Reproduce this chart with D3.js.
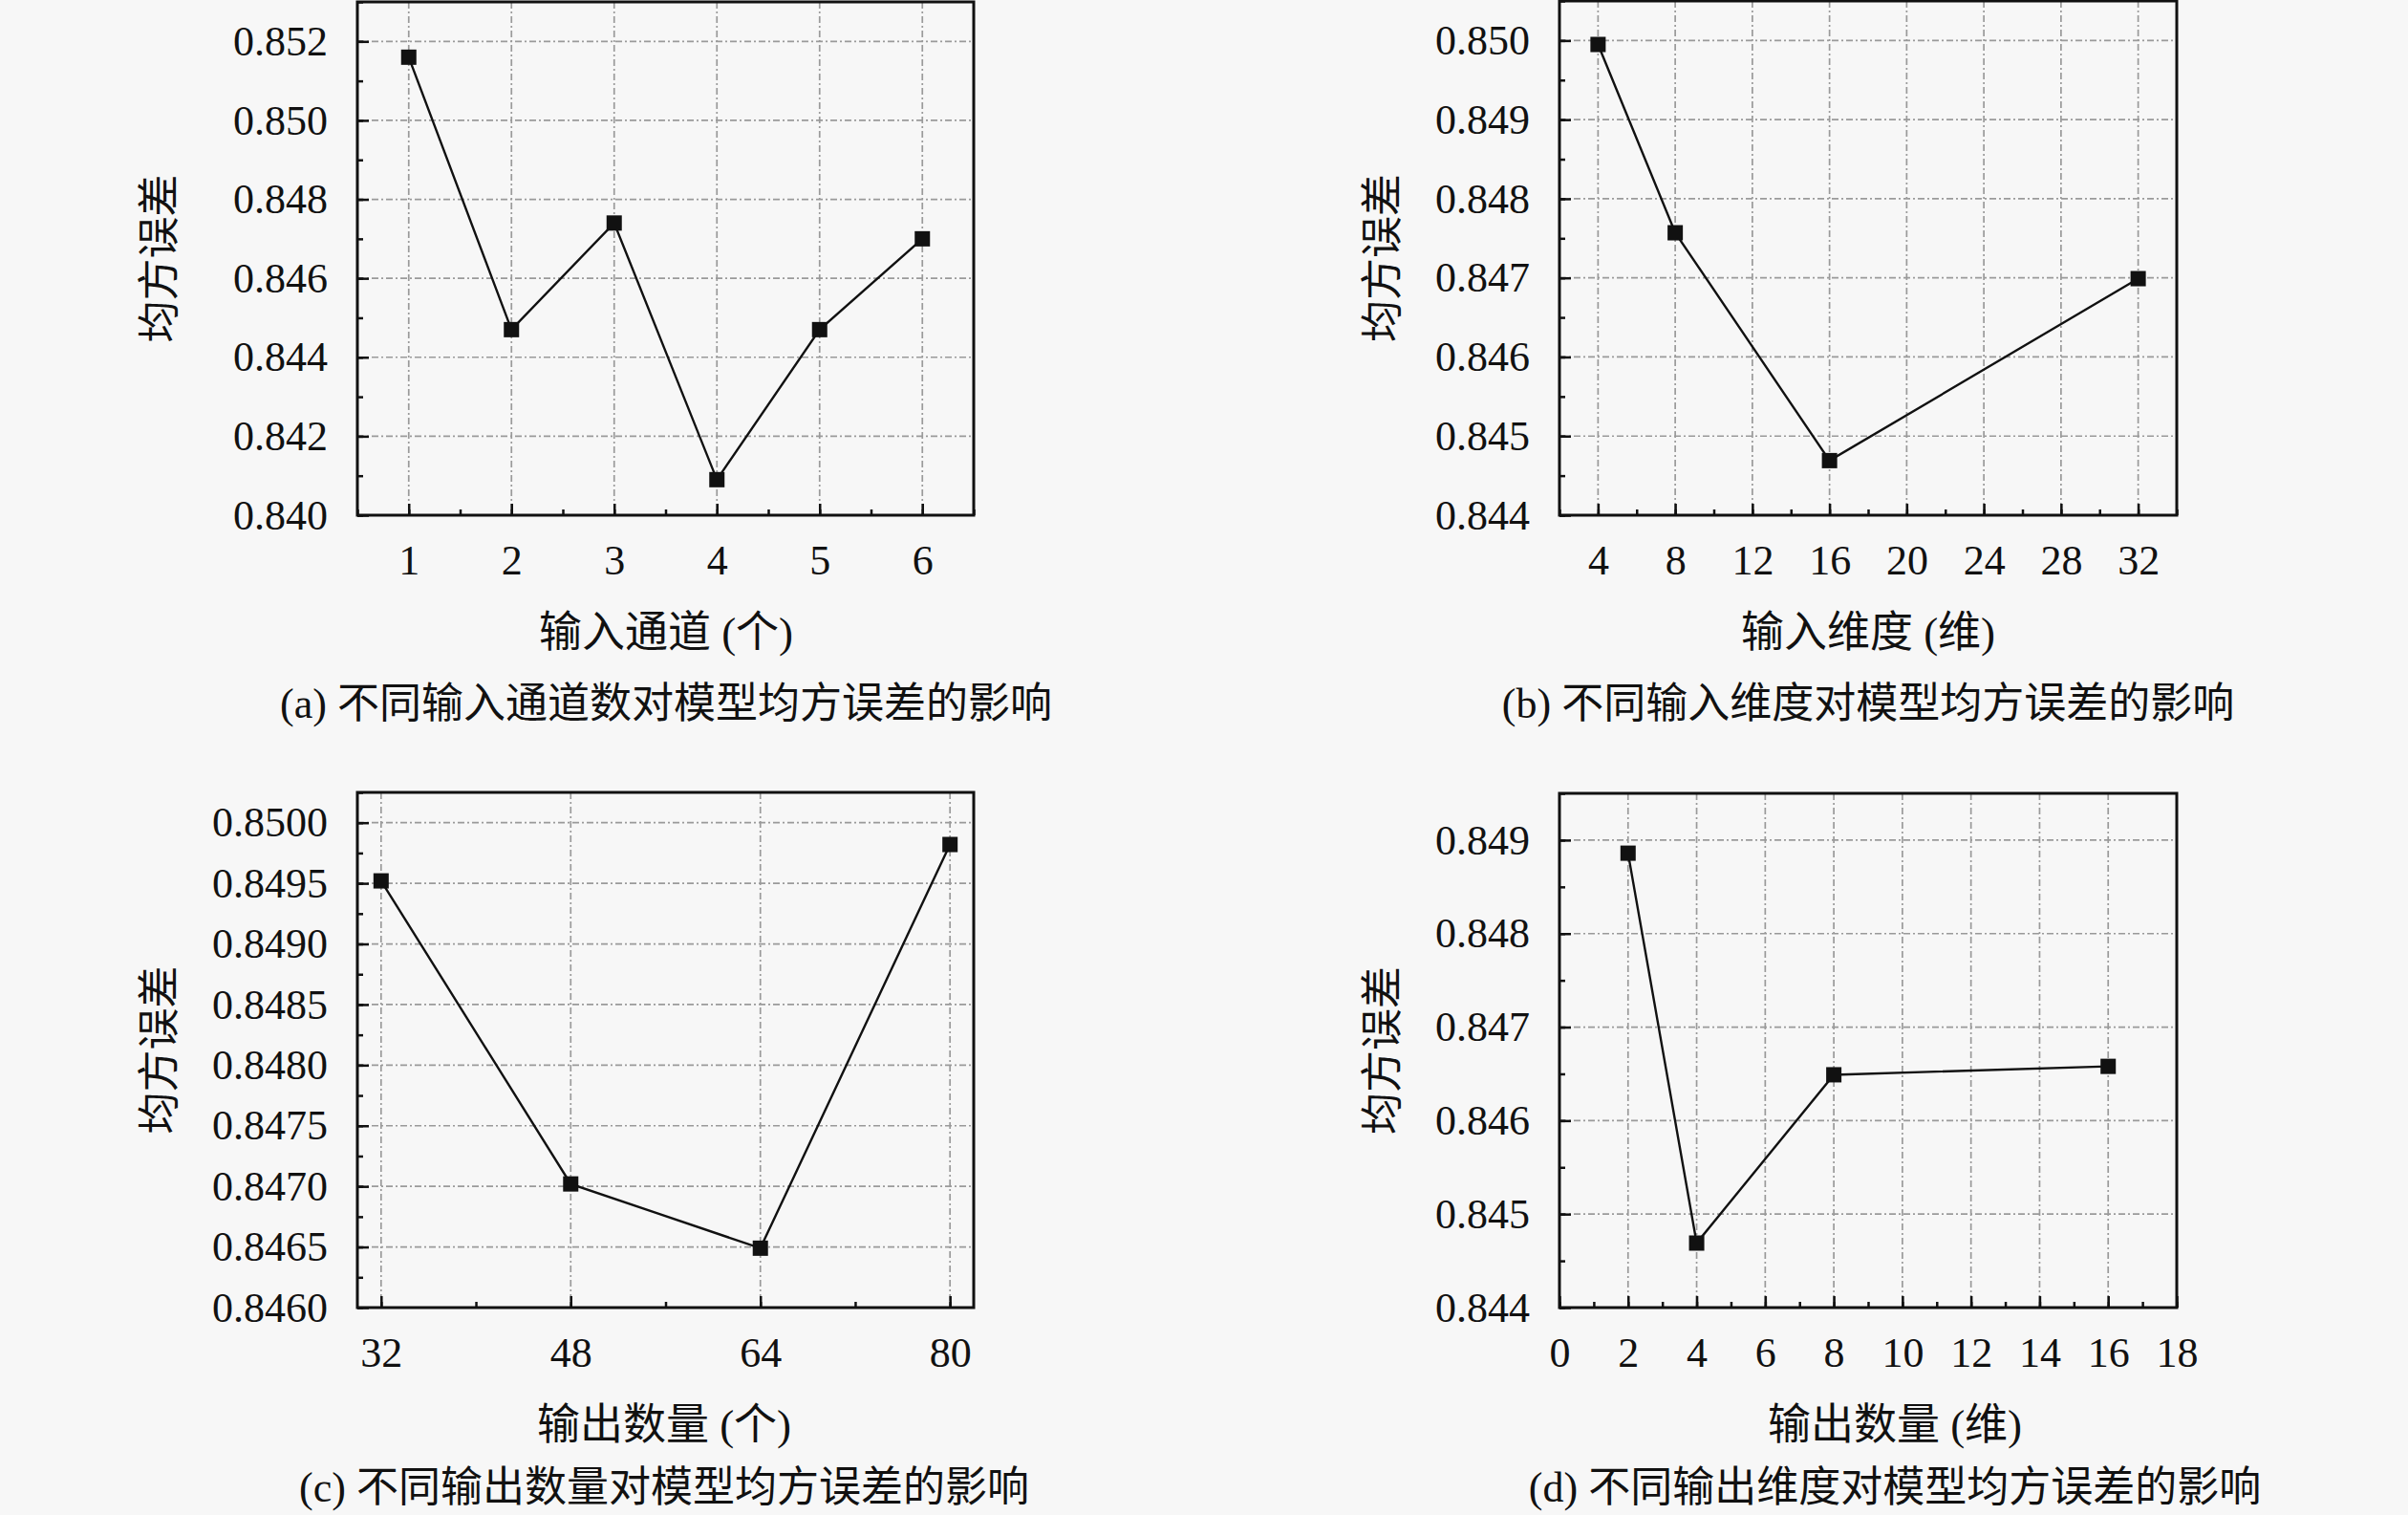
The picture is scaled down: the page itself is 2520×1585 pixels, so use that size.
<!DOCTYPE html>
<html>
<head>
<meta charset="utf-8">
<script src="https://cdn.jsdelivr.net/npm/d3@7"></script>
<style>
  html, body { margin: 0; padding: 0; background: #f7f7f7; }
  svg { display: block; }
  text { font-family: "Liberation Serif", "Noto Sans CJK SC", serif; fill: #111; }
</style>
</head>
<body>
<script>
// (a) input channels
const chanX = [1, 2, 3, 4, 5, 6]
const chanY = [0.8516, 0.8447, 0.8474, 0.8409, 0.8447, 0.8470]
const chanXTicks = [1, 2, 3, 4, 5, 6]
const chanYTicks = [0.840, 0.842, 0.844, 0.846, 0.848, 0.850, 0.852]

// (b) input dims
const inDimX = [4, 8, 16, 32]
const inDimY = [0.84995, 0.84757, 0.84469, 0.84699]
const inDimXTicks = [4, 8, 12, 16, 20, 24, 28, 32]
const inDimYTicks = [0.844, 0.845, 0.846, 0.847, 0.848, 0.849, 0.850]

// (c) output count
const outNumX = [32, 48, 64, 80]
const outNumY = [0.84952, 0.84702, 0.84649, 0.84982]
const outNumXTicks = [32, 48, 64, 80]
const outNumYTicks = [0.8460, 0.8465, 0.8470, 0.8475, 0.8480, 0.8485, 0.8490, 0.8495, 0.8500]

// (d) output dims
const outDimX = [2, 4, 8, 16]
const outDimY = [0.84886, 0.84469, 0.84649, 0.84658]
const outDimXTicks = [0, 2, 4, 6, 8, 10, 12, 14, 16, 18]
const outDimYTicks = [0.844, 0.845, 0.846, 0.847, 0.848, 0.849]

const [width, height] = [2520, 1585]
const colors = {
    "black": "#111",
    "grid": "#9a9a9a",
}

const panels = [
    { x: chanX, y: chanY, xTicks: chanXTicks, yTicks: chanYTicks,
      xDom: [0.5, 6.5], yDom: [0.840, 0.853], xMinor: 0.5, yMinor: 0.001, fmt: ".3f",
      box: [374, 2, 1019, 539], ylabX: 167, labX: 697, capY: 736,
      xlab: "输入通道 (个)", cap: "(a) 不同输入通道数对模型均方误差的影响" },
    { x: inDimX, y: inDimY, xTicks: inDimXTicks, yTicks: inDimYTicks,
      xDom: [2, 34], yDom: [0.844, 0.8505], xMinor: 2, yMinor: 0.0005, fmt: ".3f",
      box: [1632, 1, 2278, 539], ylabX: 1447, labX: 1955, capY: 736,
      xlab: "输入维度 (维)", cap: "(b) 不同输入维度对模型均方误差的影响" },
    { x: outNumX, y: outNumY, xTicks: outNumXTicks, yTicks: outNumYTicks,
      xDom: [30, 82], yDom: [0.846, 0.85025], xMinor: 8, yMinor: 0.00025, fmt: ".4f",
      box: [374, 829, 1019, 1368], ylabX: 167, labX: 695, capY: 1556,
      xlab: "输出数量 (个)", cap: "(c) 不同输出数量对模型均方误差的影响" },
    { x: outDimX, y: outDimY, xTicks: outDimXTicks, yTicks: outDimYTicks,
      xDom: [0, 18], yDom: [0.844, 0.8495], xMinor: 1, yMinor: 0.0005, fmt: ".3f",
      box: [1632, 830, 2278, 1368], ylabX: 1447, labX: 1983, capY: 1556,
      xlab: "输出数量 (维)", cap: "(d) 不同输出维度对模型均方误差的影响" },
]

const svg = d3.select("body")
        .append("svg")
            .attr("width", width)
            .attr("height", height)

// minor ticks between the major ones
function minorTicks(dom, step) {
    const n = Math.round((dom[1] - dom[0]) / step) + 1
    const start = Math.ceil(dom[0] / step - 1e-9)
    return d3.range(start, start + n + 1).map(i => +(i * step).toFixed(6))
        .filter(v => v >= dom[0] - 1e-9 && v <= dom[1] + 1e-9)
}

function drawPanel(p) {
    const [x0, y0, x1, y1] = p.box
    const xs = d3.scaleLinear().domain(p.xDom).range([x0, x1])
    const ys = d3.scaleLinear().domain(p.yDom).range([y1, y0])
    const g = svg.append("g")

    // grid
    g.append("g")
        .selectAll("line")
        .data(p.xTicks)
        .join("line")
            .attr("x1", d => xs(d)).attr("x2", d => xs(d))
            .attr("y1", y0).attr("y2", y1)
    g.append("g")
        .selectAll("line")
        .data(p.yTicks)
        .join("line")
            .attr("x1", x0).attr("x2", x1)
            .attr("y1", d => ys(d)).attr("y2", d => ys(d))
    g.selectAll("line")
        .attr("stroke", colors.grid)
        .attr("stroke-width", 1.7)
        .attr("stroke-dasharray", "7,3,2,3")

    // minor ticks (inward)
    const xm = minorTicks(p.xDom, p.xMinor)
    const ym = minorTicks(p.yDom, p.yMinor)
    g.append("g")
        .attr("transform", `translate(0,${y1})`)
        .call(d3.axisBottom(xs).tickValues(xm).tickSize(-6).tickSizeOuter(0).tickFormat(""))
    g.append("g")
        .attr("transform", `translate(${x0},0)`)
        .call(d3.axisLeft(ys).tickValues(ym).tickSize(-6).tickSizeOuter(0).tickFormat(""))

    // major ticks with labels
    g.append("g")
        .attr("transform", `translate(0,${y1})`)
        .call(d3.axisBottom(xs).tickValues(p.xTicks).tickSize(-12).tickSizeOuter(0).tickPadding(31).tickFormat(d3.format("d")))
    g.append("g")
        .attr("transform", `translate(${x0},0)`)
        .call(d3.axisLeft(ys).tickValues(p.yTicks).tickSize(-12).tickSizeOuter(0).tickPadding(31).tickFormat(d3.format(p.fmt)))
    g.selectAll(".domain").remove()
    g.selectAll(".tick line").attr("stroke", colors.black).attr("stroke-width", 2.5)
    g.selectAll(".tick text")
        .attr("font-family", null)
        .attr("font-size", 44)
        .attr("fill", colors.black)

    // frame
    g.append("rect")
        .attr("x", x0).attr("y", y0)
        .attr("width", x1 - x0).attr("height", y1 - y0)
        .attr("fill", "none")
        .attr("stroke", colors.black)
        .attr("stroke-width", 3)

    // series
    const pts = p.x.map((d, i) => [d, p.y[i]])
    g.append("path")
        .datum(pts)
        .attr("fill", "none")
        .attr("stroke", colors.black)
        .attr("stroke-width", 2.4)
        .attr("d", d3.line().x(d => xs(d[0])).y(d => ys(d[1])))
    const s = 16
    g.append("g")
        .selectAll("rect")
        .data(pts)
        .join("rect")
            .attr("x", d => xs(d[0]) - s / 2)
            .attr("y", d => ys(d[1]) - s / 2)
            .attr("width", s).attr("height", s)
            .attr("fill", colors.black)

    // labels
    g.append("text")
        .attr("transform", `translate(${p.ylabX},${(y0 + y1) / 2}) rotate(-90)`)
        .attr("text-anchor", "middle")
        .attr("dy", "0.35em")
        .attr("font-size", 44)
        .text("均方误差")
    g.append("text")
        .attr("x", p.labX).attr("y", y1 + 122)
        .attr("text-anchor", "middle")
        .attr("dy", "0.35em")
        .attr("font-size", 45)
        .text(p.xlab)
    g.append("text")
        .attr("x", p.labX).attr("y", p.capY)
        .attr("text-anchor", "middle")
        .attr("dy", "0.35em")
        .attr("font-size", 44)
        .text(p.cap)
}

panels.forEach(drawPanel)
</script>
</body>
</html>
